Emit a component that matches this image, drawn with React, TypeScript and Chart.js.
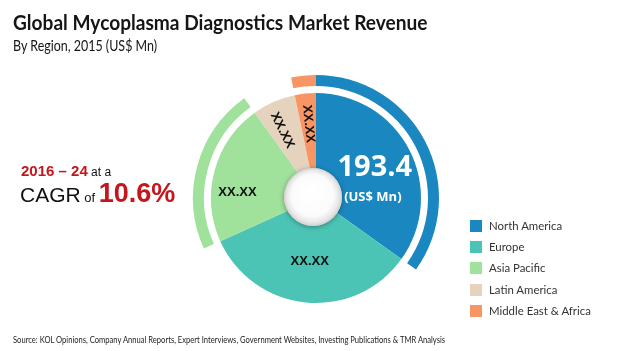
import React, { useEffect, useRef } from "react";
import { Chart, registerables } from "chart.js";

Chart.register(...registerables);

const regions = ["North America", "Europe", "Asia Pacific", "Latin America", "Middle East & Africa"];
const revenue = [193.4, 185, 121, 37, 18];
const sliceLabels = ["193.4", "XX.XX", "XX.XX", "XX.XX", "XX.XX"];
const sliceColors = ["#1a87c0", "#4cc4b5", "#a0e19b", "#e6d3be", "#f79664"];
const ringColors = ["#1a87c0", "rgba(0,0,0,0)", "#a0e19b", "rgba(0,0,0,0)", "#f79664"];
const labelRadius = [0.63, 0.61, 0.75, 0.72, 0.71];
const labelAngleFrac = [0.5, 0.5, 0.36, 0.38, 0.5];
const labelRotated = [false, false, false, true, true];

const labelPlugin = {
  id: "sliceLabels",
  afterDatasetsDraw(chart: any) {
    const ctx = chart.ctx;
    const meta = chart.getDatasetMeta(2);
    meta.data.forEach((arc: any, i: number) => {
      const { x, y, startAngle, endAngle, outerRadius } = arc.getProps(["x", "y", "startAngle", "endAngle", "outerRadius"], true);
      const a = startAngle + (endAngle - startAngle) * labelAngleFrac[i];
      const r = outerRadius * labelRadius[i];
      const px = x + Math.cos(a) * r;
      const py = y + Math.sin(a) * r;
      ctx.save();
      ctx.translate(px, py);
      ctx.textAlign = "center";
      ctx.textBaseline = "middle";
      if (i === 0) {
        ctx.fillStyle = "#ffffff";
        ctx.font = "700 29px 'Open Sans'";
        ctx.fillText(sliceLabels[i], 0, 0);
        ctx.font = "700 13px 'Open Sans'";
        ctx.fillText("(US$ Mn)", -2, 30);
      } else {
        if (labelRotated[i]) ctx.rotate(a + Math.PI);
        ctx.fillStyle = "#111111";
        ctx.font = "700 13px 'Liberation Sans'";
        ctx.fillText(sliceLabels[i], 0, 0);
      }
      ctx.restore();
    });
    // center knob
    const arc0: any = meta.data[0];
    if (arc0) {
      const cx = arc0.x - 3;
      const cy = arc0.y - 1;
      const rr = 29;
      ctx.save();
      ctx.shadowColor = "rgba(0,0,0,0.35)";
      ctx.shadowBlur = 5;
      ctx.shadowOffsetY = 1;
      ctx.beginPath();
      ctx.arc(cx, cy, rr, 0, Math.PI * 2);
      ctx.fillStyle = "#d9d9d9";
      ctx.fill();
      ctx.restore();
      ctx.save();
      const g = ctx.createRadialGradient(cx - 2, cy - 6, 2, cx, cy, rr);
      g.addColorStop(0, "#ffffff");
      g.addColorStop(0.7, "#fbfbfb");
      g.addColorStop(0.9, "#e6e6e6");
      g.addColorStop(1, "#cfcfcf");
      ctx.beginPath();
      ctx.arc(cx, cy, rr, 0, Math.PI * 2);
      ctx.fillStyle = g;
      ctx.fill();
      ctx.restore();
    }
  },
};

export default function App() {
  const ref = useRef<HTMLCanvasElement>(null);
  useEffect(() => {
    if (!ref.current) return;
    const chart = new Chart(ref.current, {
      type: "doughnut",
      data: {
        labels: regions,
        datasets: [
          { data: revenue, backgroundColor: ringColors, borderWidth: 0, weight: 11 },
          { data: [1], backgroundColor: ["rgba(0,0,0,0)"], borderWidth: 0, weight: 7 },
          { data: revenue, backgroundColor: sliceColors, borderWidth: 0, weight: 105 },
        ],
      },
      options: {
        animation: false,
        responsive: false,
        cutout: 0,
        layout: { padding: { left: 12, right: 0, top: 75, bottom: 30 } },
        plugins: { legend: { display: false }, tooltip: { enabled: false } },
      },
      plugins: [labelPlugin],
    });
    return () => chart.destroy();
  }, []);

  const abs = (s: any) => ({ position: "absolute" as const, whiteSpace: "nowrap" as const, lineHeight: 1, transformOrigin: "0 50%", ...s });

  return (
    <div style={{ position: "absolute", left: 0, top: 0, width: 620, height: 351, background: "#fff", overflow: "hidden" }}>
      <canvas ref={ref} width={620} height={351} style={{ position: "absolute", left: 0, top: 0 }} />
      <div style={abs({ left: 13, top: 11, fontFamily: "Lato", fontWeight: 700, fontSize: 21, color: "#151515", transform: "scaleX(0.91)" })}>
        Global Mycoplasma Diagnostics Market Revenue
      </div>
      <div style={abs({ left: 13, top: 39, fontFamily: "Lato", fontWeight: 400, fontSize: 14.5, color: "#151515", transform: "scaleX(0.86)" })}>
        By Region, 2015 (US$ Mn)
      </div>
      <div style={abs({ left: 21, top: 163, fontFamily: "'Liberation Sans'", fontSize: 15, color: "#111" })}>
        <span style={{ color: "#c4161c", fontWeight: 700 }}>2016 – 24</span>
        <span style={{ fontSize: 12 }}> at a</span>
      </div>
      <div style={abs({ left: 20, top: 180, fontFamily: "'Liberation Sans'", color: "#111" })}>
        <span style={{ fontSize: 21 }}>CAGR</span>
        <span style={{ fontSize: 13 }}> of </span>
        <span style={{ fontSize: 27, fontWeight: 700, color: "#c4161c" }}>10.6%</span>
      </div>
      {regions.map((r, i) => (
        <div key={r} style={abs({ left: 470, top: 220 + i * 21.2, display: "flex", alignItems: "center", fontFamily: "Lato", fontSize: 12, color: "#333" })}>
          <span style={{ display: "inline-block", width: 12, height: 12, background: sliceColors[i], marginRight: 7 }} />
          <span style={{ display: "inline-block", transform: "scaleX(0.95)", transformOrigin: "0 50%" }}>{r}</span>
        </div>
      ))}
      <div style={abs({ left: 13, top: 335, fontFamily: "Lato", fontSize: 9.5, color: "#222", transform: "scaleX(0.8)" })}>
        Source: KOL Opinions, Company Annual Reports, Expert Interviews, Government Websites, Investing Publications &amp; TMR Analysis
      </div>
    </div>
  );
}
